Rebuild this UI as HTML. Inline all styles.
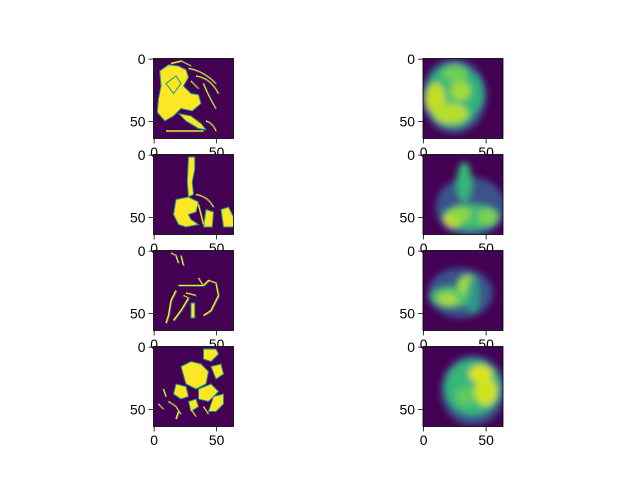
<!DOCTYPE html>
<html><head><meta charset="utf-8">
<style>
html,body{margin:0;padding:0;background:#fff;}
svg{display:block;font-family:"Liberation Sans","DejaVu Sans",sans-serif;}
</style></head>
<body>
<svg id="fig" width="640" height="480" viewBox="0 0 640 480" xmlns="http://www.w3.org/2000/svg">
<defs>
<filter id="blur" x="-50%" y="-50%" width="200%" height="200%"><feGaussianBlur stdDeviation="2.6"/></filter>
<clipPath id="clip"><rect x="0" y="0" width="64" height="64"/></clipPath>
</defs>
</svg>
<script>
const xTicks = [0, 50];
const yTicks = [0, 50];
const colX = [153.5, 423];
const rowY = [58.5, 154.5, 250.5, 346.5];
const SIZE = 80, N = 64;
const NS = "http://www.w3.org/2000/svg";
const fig = document.getElementById('fig');
function mk(tag, attrs, parent){const e=document.createElementNS(NS,tag);for(const k in attrs)e.setAttribute(k,attrs[k]);if(parent)parent.appendChild(e);return e;}

const binShapes = [
 { fills:["M5,10 L12,5 L20,6 L26,9 L28,15 L24,22 L30,28 L36,29 L38,36 L31,42 L22,40 L16,46 L9,50 L3,43 L4,32 L6,22 Z",
          "M20,44 L30,46 L38,52 L42,57 L36,56 L26,50 Z","M10,20 L18,14 L22,20 L16,28 Z"],
   lines:["M28,8 Q40,10 50,20","M34,14 Q46,16 52,28","M40,20 Q44,30 50,40","M30,18 L36,24","M42,50 Q48,52 50,58","M10,58 L40,58","M14,4 L22,2 L30,6"] },
 { fills:["M28,2 L33,2 L33,12 L31,22 L32,32 L28,34 L27,22 Z",
          "M18,36 L28,34 L36,38 L34,46 L28,48 L30,52 L36,56 L26,58 L20,56 L16,48 Z",
          "M42,44 L48,46 L47,58 L40,58 Z","M54,44 L60,42 L64,50 L64,58 L56,58 Z"],
   lines:["M34,32 Q44,34 48,42","M36,40 L40,56"] },
 { fills:["M30,42 L33,42 L33,54 L30,54 Z"],
   lines:["M14,2 L18,4 L20,10","M22,4 L24,12","M20,28 L40,28 L44,24 L50,26 L52,36 L46,48 L40,52","M18,32 L14,40 L12,52 L10,58","M24,36 L28,38 L22,48 L16,56","M26,34 L34,36","M36,22 L40,28"] },
 { fills:["M40,2 L50,2 L52,6 L46,12 L40,10 Z","M22,16 L30,12 L38,14 L44,20 L42,30 L34,34 L26,30 Z",
          "M46,16 L54,14 L56,22 L50,26 Z","M18,30 L26,32 L28,40 L22,42 L16,38 Z","M36,34 L46,30 L52,36 L44,44 L36,42 Z",
          "M48,40 L56,38 L56,46 L50,52 L44,52 Z","M28,44 L34,42 L36,48 L30,52 Z"],
   lines:["M8,34 L10,40","M12,44 L18,48 L22,54","M4,46 L8,50","M30,50 L34,56","M40,48 L44,54","M18,58 L20,52"] }
];
const blurBlobs = [
 [[25,30,26,30,"#3b528b"],[24,30,21,25,"#35b779"],[38,28,10,16,"#2fb47c"],[10,32,8,12,"#c2df23"],[22,44,14,8,"#b5de2b"],[30,26,8,8,"#a0da39"],[26,12,10,7,"#6ccd5a"]],
 [[38,42,28,24,"#3b528b"],[33,22,6,16,"#35b779"],[38,50,22,10,"#3fbc73"],[24,52,7,6,"#c8e020"],[52,50,8,7,"#7ad151"],[30,48,8,6,"#90d743"]],
 [[30,34,26,20,"#3b528b"],[24,37,18,8,"#4ac16d"],[36,28,8,8,"#a0da39"],[40,36,5,14,"#2a9f87"],[20,39,8,5,"#a8db34"]],
 [[40,35,26,28,"#3b528b"],[40,33,22,22,"#35b779"],[46,22,9,7,"#dde318"],[50,36,9,11,"#d2e21b"],[34,40,8,8,"#5ec962"]]
];

function ticks(g,x0,y0){
  const sc=SIZE/N;
  xTicks.forEach(t=>{const x=x0+(t+0.5)*sc;
    const l=mk('line',{x1:x,x2:x,y1:y0+SIZE,y2:y0+SIZE+4.9,stroke:'#000','stroke-width':0.8},g);
    
    const tx=mk('text',{x:x,y:y0+SIZE+18.5,'text-anchor':'middle','font-size':'13.9px',fill:'#000'},g);
    tx.textContent=t;});
  yTicks.forEach(t=>{const y=y0+(t+0.5)*sc;
    const l=mk('line',{x1:x0-4.9,x2:x0,y1:y,y2:y,stroke:'#000','stroke-width':0.8},g);
    
    const tx=mk('text',{x:x0-8,y:y+5,'text-anchor':'end','font-size':'13.9px',fill:'#000'},g);
    tx.textContent=t;});
}
for(let r=0;r<4;r++){
  let x0=colX[0],y0=rowY[r];
  let g=mk('g',{},fig);
  
  
  let ig=mk('g',{transform:`translate(${x0},${y0}) scale(${SIZE/N})`,'clip-path':'url(#clip)'},g);
  mk('rect',{x:0,y:0,width:64,height:64,fill:'#440154'},ig);
  binShapes[r].fills.forEach(d=>{const p=mk('path',{d:d,fill:'#fde725',stroke:'#21918c','stroke-width':0.8},ig);});
  binShapes[r].lines.forEach(d=>{const p=mk('path',{d:d,fill:'none',stroke:'#fde725','stroke-width':1.2},ig);
    mk('path',{d:d,fill:'none',stroke:'#21918c','stroke-width':0.5,transform:'translate(0.8,0.6)'},ig);});
  mk('rect',{x:x0,y:y0,width:SIZE,height:SIZE,fill:'none',stroke:'#000','stroke-width':0.8},g);
  ticks(g,x0,y0);
  x0=colX[1];
  g=mk('g',{},fig);
  
  
  ig=mk('g',{transform:`translate(${x0},${y0}) scale(${SIZE/N})`,'clip-path':'url(#clip)'},g);
  mk('rect',{x:0,y:0,width:64,height:64,fill:'#440154'},ig);
  const bg=mk('g',{filter:'url(#blur)'},ig);
  blurBlobs[r].forEach(b=>{const e=mk('ellipse',{cx:b[0],cy:b[1],rx:b[2],ry:b[3],fill:b[4]},bg);});
  mk('rect',{x:x0,y:y0,width:SIZE,height:SIZE,fill:'none',stroke:'#000','stroke-width':0.8},g);
  ticks(g,x0,y0);
}
</script>
</body></html>
